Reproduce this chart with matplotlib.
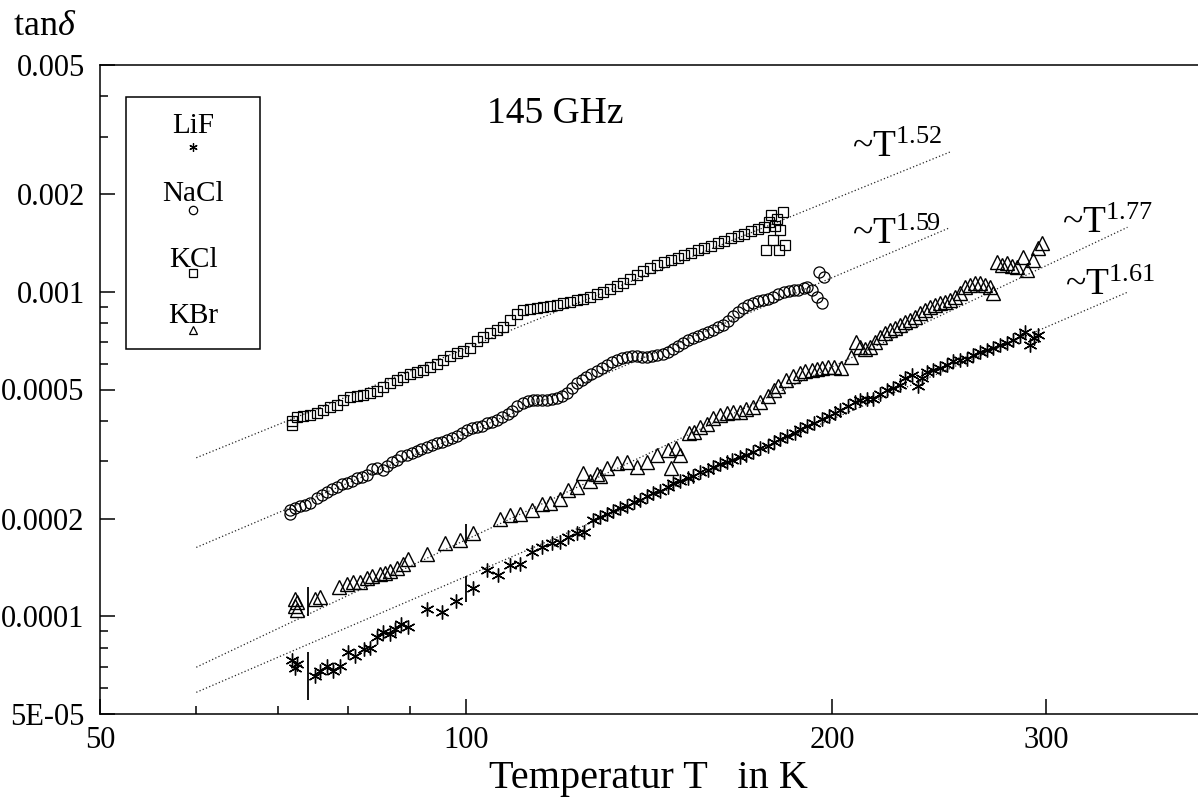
import numpy as np
import matplotlib
matplotlib.use('Agg')
import matplotlib.pyplot as plt
from matplotlib.ticker import FixedLocator, FixedFormatter, NullFormatter
from matplotlib.patches import Rectangle

plt.rcParams['font.family'] = ['Liberation Serif', 'DejaVu Serif']
plt.rcParams['mathtext.fontset'] = 'custom'
plt.rcParams['mathtext.rm'] = 'Liberation Serif'
plt.rcParams['mathtext.it'] = 'Liberation Serif:italic'

# --- data (T in K, tan delta in units of 1e-4) ---
kcl_T = [71.9, 71.9, 72.6, 73.4, 74.4, 75.4, 76.3, 77.3, 78.3, 79.2, 80.3, 81.3, 82.3,
         83.4, 84.5, 85.5, 86.6, 87.7, 88.7, 89.9, 91.1, 92.1, 93.4, 94.6, 95.7, 97.0,
         98.3, 99.4, 100.8, 102.1, 103.3, 104.7, 106.1, 107.3, 108.7, 110.2, 111.5,
         112.9, 114.4, 115.7, 117.2, 118.8, 120.1, 121.7, 123.3, 124.7, 126.4, 128.1,
         129.6, 131.3, 133.1, 134.6, 136.4, 138.3, 139.9, 141.8, 143.7, 145.4, 147.3,
         149.3, 151.0, 153.0, 155.1, 156.8, 159.0, 161.1, 163.0, 165.2, 167.4, 169.4,
         171.6, 173.9, 175.9, 176.6, 177.6, 178.3, 179.0, 179.7, 180.3, 181.0, 181.2,
         182.3, 183.0]
kcl_tan = [3.90, 4.01, 4.10, 4.13, 4.18, 4.24, 4.33, 4.42, 4.48, 4.65, 4.75, 4.78, 4.82,
           4.89, 4.96, 5.10, 5.24, 5.35, 5.46, 5.57, 5.65, 5.74, 5.86, 5.99, 6.16, 6.34,
           6.47, 6.56, 6.70, 7.03, 7.28, 7.47, 7.62, 7.80, 8.18, 8.55, 8.79, 8.85, 8.91,
           8.98, 9.04, 9.11, 9.24, 9.30, 9.43, 9.50, 9.63, 9.84, 10.00, 10.20, 10.42,
           10.64, 10.94, 11.25, 11.57, 11.84, 12.09, 12.35, 12.53, 12.70, 12.98, 13.16,
           13.45, 13.64, 13.84, 14.14, 14.34, 14.65, 14.86, 15.07, 15.40, 15.62, 15.84,
           13.45, 16.41, 17.24, 14.44, 15.95, 16.80, 13.45, 15.50, 17.60, 13.94]

nacl_T = [71.6, 71.6, 72.3, 73.0, 73.7, 74.4, 75.4, 76.1, 76.9, 77.6, 78.3, 79.1, 79.8,
          80.6, 81.3, 82.1, 82.9, 83.7, 84.5, 85.5, 86.1, 86.9, 87.7, 88.5, 89.4, 90.2,
          91.1, 91.9, 92.8, 93.7, 94.6, 95.5, 96.4, 97.4, 98.3, 99.2, 100.2, 101.1,
          102.1, 103.1, 104.1, 105.1, 106.1, 107.1, 108.2, 109.2, 110.2, 111.3, 112.4,
          113.5, 114.4, 115.5, 116.6, 117.7, 118.8, 119.9, 121.0, 122.2, 123.3, 124.5,
          125.6, 126.8, 128.1, 129.3, 130.5, 131.8, 133.1, 134.4, 135.6, 136.9, 138.3,
          139.6, 141.0, 142.3, 143.7, 145.1, 146.5, 147.9, 149.3, 150.7, 152.2, 153.6,
          155.1, 156.6, 158.1, 159.6, 161.1, 162.7, 164.3, 165.9, 167.4, 169.1, 170.7,
          172.3, 173.9, 175.6, 177.3, 179.0, 180.7, 182.5, 184.2, 186.0, 187.7, 189.5,
          190.9, 192.4, 194.3, 195.1, 197.0, 196.2]
nacl_tan = [2.13, 2.07, 2.15, 2.19, 2.21, 2.24, 2.32, 2.37, 2.41, 2.46, 2.51, 2.55, 2.58,
            2.62, 2.66, 2.69, 2.73, 2.85, 2.87, 2.83, 2.91, 2.98, 3.04, 3.11, 3.15, 3.19,
            3.24, 3.28, 3.33, 3.38, 3.43, 3.45, 3.50, 3.55, 3.60, 3.68, 3.76, 3.81, 3.84,
            3.87, 3.93, 3.98, 4.04, 4.10, 4.19, 4.30, 4.46, 4.55, 4.62, 4.65, 4.65, 4.65,
            4.65, 4.68, 4.72, 4.79, 4.89, 5.04, 5.22, 5.35, 5.47, 5.58, 5.70, 5.82, 5.95,
            6.07, 6.16, 6.25, 6.29, 6.34, 6.34, 6.29, 6.29, 6.34, 6.38, 6.43, 6.52, 6.66,
            6.80, 6.95, 7.10, 7.20, 7.30, 7.41, 7.51, 7.62, 7.78, 7.90, 8.12, 8.42, 8.67,
            8.92, 9.11, 9.23, 9.36, 9.43, 9.50, 9.63, 9.84, 10.00, 10.06, 10.13, 10.13,
            10.27, 10.35, 10.13, 9.64, 11.51, 11.10, 9.23]

kbr_T = [72.3, 72.3, 72.6, 72.6, 75.1, 75.9, 78.6, 79.8, 80.7, 81.8, 82.9, 83.7, 85.0,
         85.8, 86.6, 87.7, 88.7, 89.6, 92.8, 96.1, 98.8, 101.3, 106.7, 108.7, 110.8,
         113.3, 115.4, 117.2, 119.5, 121.2, 123.3, 124.7, 126.4, 128.1, 128.9, 130.5,
         133.1, 135.6, 138.3, 141.0, 143.7, 146.5, 148.7, 150.0, 147.3, 152.5, 154.0,
         155.7, 157.8, 159.6, 161.8, 163.8, 165.7, 168.0, 170.1, 172.3, 174.5, 177.3,
         179.3, 180.7, 183.2, 185.6, 188.2, 190.0, 192.4, 194.3, 196.2, 198.5, 200.9,
         203.3, 207.3, 209.3, 210.9, 213.0, 215.0, 217.1, 219.0, 221.1, 223.3, 225.3,
         227.5, 229.5, 231.7, 233.9, 236.2, 238.4, 240.7, 242.9, 245.3, 247.6, 250.0,
         252.3, 254.8, 257.2, 259.7, 262.2, 264.6, 267.1, 269.6, 271.2, 273.3, 275.9,
         278.6, 281.2, 283.9, 287.2, 289.4, 292.7, 295.5, 297.8]
kbr_tan = [1.075, 1.13, 1.106, 1.043, 1.13, 1.146, 1.227, 1.254, 1.273, 1.273, 1.309,
           1.328, 1.347, 1.361, 1.380, 1.41, 1.45, 1.50, 1.554, 1.684, 1.72, 1.811, 1.99,
           2.047, 2.062, 2.13, 2.226, 2.242, 2.306, 2.443, 2.512, 2.77, 2.603, 2.751,
           2.712, 2.87, 2.976, 2.997, 2.893, 2.997, 3.146, 3.26, 3.307, 3.146, 2.87, 3.68,
           3.707, 3.844, 3.927, 4.098, 4.186, 4.239, 4.269, 4.269, 4.361, 4.423, 4.584,
           4.76, 5.00, 5.11, 5.35, 5.504, 5.62, 5.70, 5.74, 5.78, 5.82, 5.86, 5.86, 5.82,
           6.29, 7.00, 6.75, 6.66, 6.75, 7.00, 7.25, 7.46, 7.62, 7.73, 7.90, 8.06, 8.18,
           8.36, 8.60, 8.79, 8.98, 9.11, 9.23, 9.30, 9.43, 9.63, 9.92, 10.35, 10.49,
           10.64, 10.64, 10.49, 10.34, 9.92, 12.35, 12.09, 12.27, 12.01, 11.92, 12.80,
           11.67, 12.53, 13.64, 14.13]

lif_T = [71.9, 72.3, 72.6, 75.1, 75.9, 76.9, 77.8, 78.8, 80.0, 81.1, 82.4, 83.4, 84.5,
         85.5, 86.6, 87.5, 88.5, 89.6, 92.8, 95.5, 98.1, 101.3, 104.1, 106.3, 108.7,
         110.8, 113.3, 115.4, 117.7, 119.5, 121.2, 123.3, 125.1, 127.1, 128.9, 130.5,
         132.1, 133.8, 135.6, 137.4, 139.0, 140.9, 142.6, 144.3, 146.5, 148.1, 150.0,
         152.2, 153.6, 155.7, 158.1, 159.6, 161.8, 163.8, 165.5, 168.0, 170.1, 172.3,
         174.5, 177.3, 179.3, 181.2, 183.7, 186.3, 188.2, 190.9, 193.3, 196.2, 198.8,
         201.3, 203.0, 206.3, 208.9, 210.9, 213.7, 216.2, 219.0, 222.0, 224.7, 227.5,
         229.5, 232.6, 235.3, 237.1, 239.3, 242.0, 245.3, 248.6, 251.3, 254.8, 258.2,
         261.2, 264.6, 268.1, 271.2, 274.9, 278.6, 281.7, 285.4, 288.3, 291.1, 293.3,
         295.5]
lif_tan = [0.736, 0.695, 0.715, 0.653, 0.676, 0.701, 0.676, 0.701, 0.774, 0.753, 0.791,
           0.797, 0.861, 0.892, 0.879, 0.911, 0.944, 0.924, 1.05, 1.028, 1.114, 1.219,
           1.39, 1.342, 1.438, 1.448, 1.576, 1.633, 1.684, 1.696, 1.757, 1.811, 1.824,
           1.976, 2.018, 2.062, 2.115, 2.16, 2.195, 2.258, 2.29, 2.341, 2.391, 2.425,
           2.512, 2.584, 2.621, 2.659, 2.712, 2.79, 2.83, 2.891, 2.955, 2.997, 3.04,
           3.105, 3.15, 3.214, 3.307, 3.354, 3.451, 3.525, 3.601, 3.681, 3.787, 3.868,
           3.955, 4.069, 4.156, 4.239, 4.33, 4.456, 4.585, 4.65, 4.683, 4.683, 4.86,
           4.965, 5.036, 5.18, 5.427, 5.54, 5.108, 5.43, 5.659, 5.74, 5.822, 5.947,
           6.116, 6.16, 6.204, 6.382, 6.517, 6.61, 6.705, 6.849, 6.95, 7.10, 7.304,
           7.513, 6.849, 7.201, 7.356]

# vertical marks where the measurement runs join
bar_T = [74.1, 74.1, 100, 100]
bar_lo = [0.999, 0.554, 1.684, 1.106]
bar_hi = [1.227, 0.774, 1.92, 1.328]

# power-law fits: tan = amp * (T/60)^n, drawn from 60 K to T_max
fit_amp = [3.08e-4, 1.63e-4, 6.97e-5, 5.83e-5]
fit_exp = [1.52, 1.59, 1.77, 1.61]
fit_tmax = [250, 250, 350, 350]

fig = plt.figure(figsize=(11.98, 7.98), dpi=100)
ax = fig.add_axes([100/1198, 84/798, 1098/1198, 649/798])
ax.set_xscale('log')
ax.set_yscale('log')
ax.set_xlim(50, 400)
ax.set_ylim(5e-5, 5e-3)

# fit lines
for a, n, tm in zip(fit_amp, fit_exp, fit_tmax):
    tt = np.array([60.0, tm])
    ax.plot(tt, a * (tt / 60.0) ** n, color='0.15', lw=0.9, ls=(0, (1, 1.8)))

# data
ax.plot(kcl_T, np.array(kcl_tan) * 1e-4, ls='none', marker='s', ms=7.5, mfc='none',
        mec='black', mew=0.9)
ax.plot(nacl_T, np.array(nacl_tan) * 1e-4, ls='none', marker='o', ms=8, mfc='none',
        mec='black', mew=0.9)
ax.plot(kbr_T, np.array(kbr_tan) * 1e-4, ls='none', marker='^', ms=9.5, mfc='none',
        mec='black', mew=1.0)
ax.plot(lif_T, np.array(lif_tan) * 1e-4, ls='none', marker=(6, 2, 0), ms=10,
        color='black', mew=1.0)
ax.vlines(bar_T, np.array(bar_lo) * 1e-4, np.array(bar_hi) * 1e-4, color='black', lw=1.3)

# axes styling
for s in ['left', 'bottom', 'top']:
    ax.spines[s].set_linewidth(1.1)
ax.spines['right'].set_visible(False)

ax.xaxis.set_major_locator(FixedLocator([50, 100, 200, 300]))
ax.xaxis.set_major_formatter(FixedFormatter(['50', '100', '200', '300']))
ax.xaxis.set_minor_locator(FixedLocator([60, 70, 80, 90]))
ax.xaxis.set_minor_formatter(NullFormatter())
ax.yaxis.set_major_locator(FixedLocator([5e-5, 1e-4, 2e-4, 5e-4, 1e-3, 2e-3, 5e-3]))
ax.yaxis.set_major_formatter(FixedFormatter(['5E-05', '0.0001', '0.0002', '0.0005',
                                             '0.001', '0.002', '0.005']))
ax.yaxis.set_minor_locator(FixedLocator([6e-5, 7e-5, 8e-5, 9e-5, 3e-4, 4e-4,
                                         6e-4, 7e-4, 8e-4, 9e-4, 3e-3, 4e-3]))
ax.yaxis.set_minor_formatter(NullFormatter())
ax.tick_params(which='both', direction='in', top=False, right=False, width=1.1,
               labelsize=22)
ax.tick_params(which='major', length=11)
ax.tick_params(which='minor', length=5.5)
ax.tick_params(axis='x', pad=9)
ax.tick_params(axis='y', pad=11)

# labels
fig.text(13/1198, 1 - 35/798, r'tan$\delta$', fontsize=26, ha='left', va='baseline')
fig.text(648/1198, 1 - 788/798, 'Temperatur T   in K', fontsize=29, ha='center',
         va='baseline')
ax.text(0.3525, 0.9106, '145 GHz', fontsize=27, transform=ax.transAxes, va='baseline')

fit_labels = ['~T$^{1.52}$', '~T$^{1.59}$', '~T$^{1.77}$', '~T$^{1.61}$']
label_pos = [(0.685, 0.858), (0.685, 0.724), (0.876, 0.741), (0.879, 0.646)]
for lab, (lx, ly) in zip(fit_labels, label_pos):
    ax.text(lx, ly, lab, fontsize=27, transform=ax.transAxes, va='baseline')

# hand-made legend box: name above its symbol
ax.add_patch(Rectangle((0.0237, 0.5624), 0.122, 0.3883, transform=ax.transAxes,
                       fill=False, lw=1.1, ec='black'))
leg_names = ['LiF', 'NaCl', 'KCl', 'KBr']
leg_marks = [(6, 2, 0), 'o', 's', '^']
leg_text_y = [0.8952, 0.7904, 0.6888, 0.6025]
leg_mark_y = [0.8737, 0.7766, 0.6795, 0.5917]
for name, mk, ty, my in zip(leg_names, leg_marks, leg_text_y, leg_mark_y):
    ax.text(0.0847, ty, name, fontsize=21, ha='center', va='baseline',
            transform=ax.transAxes)
    ax.plot([0.0847], [my], marker=mk, ms=6, mfc='none', mec='black', color='black',
            mew=0.9, ls='none', transform=ax.transAxes)

fig.savefig('out.png', dpi=100)
